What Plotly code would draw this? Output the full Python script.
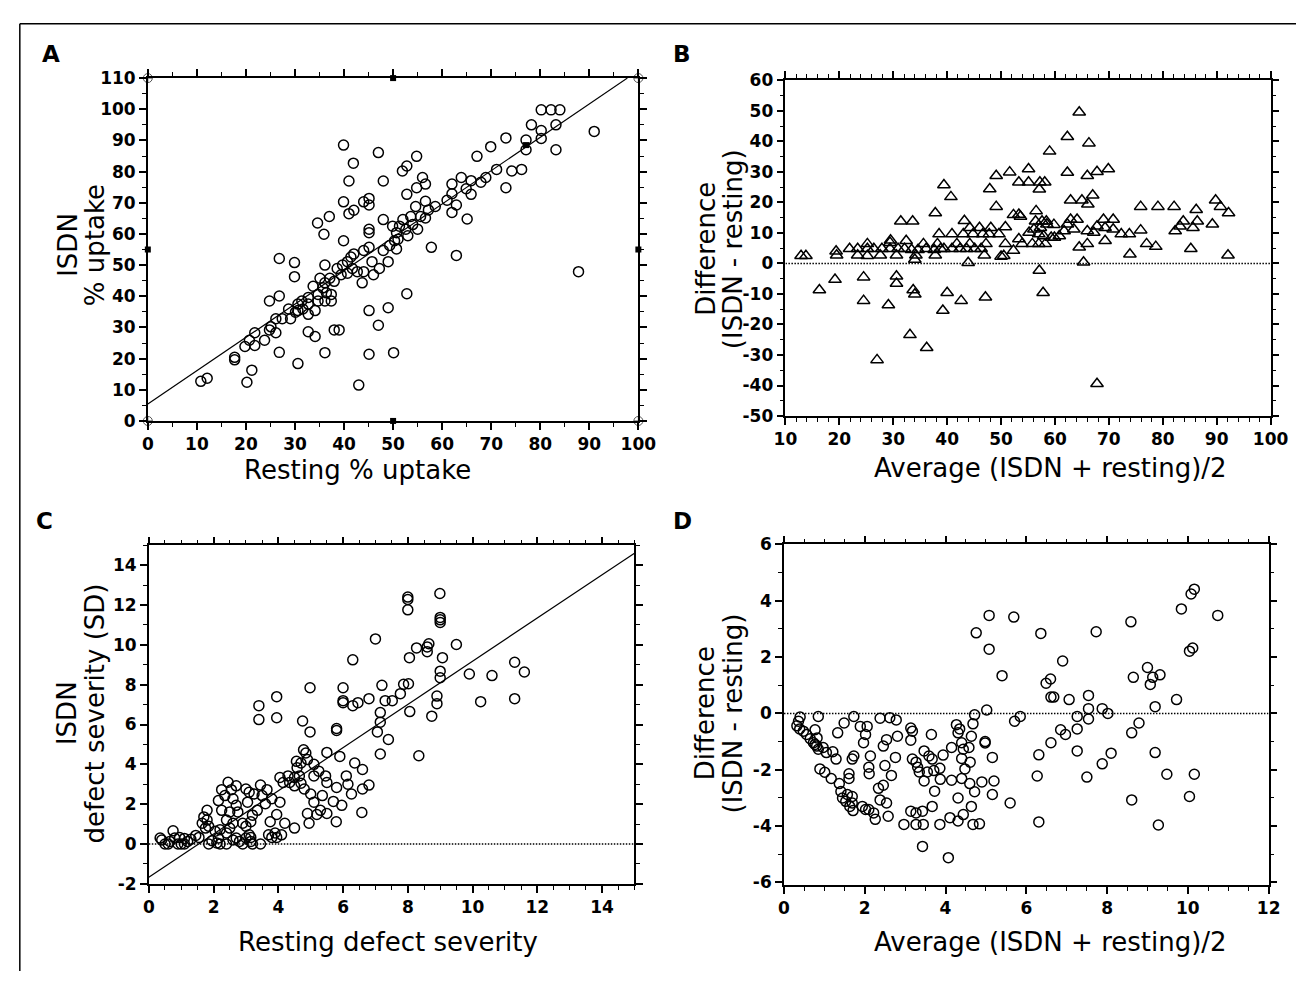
import plotly.graph_objects as go

W, H = 1314, 981
FONT = "DejaVu Sans"

# ---------------- data ----------------
# Panel A: resting % uptake (x) vs ISDN % uptake (y)
panel_a_points = [
    (10.8, 12.7), (12.1, 13.7), (17.7, 20.4), (17.7, 19.6), (19.8, 23.9), (20.7, 25.9), (21.8, 28.3), (21.8, 24.2), (20.2, 12.4), (21.2, 16.3),
    (23.8, 25.9), (24.8, 29.2), (25.1, 30.2), (24.8, 38.5), (26.1, 32.8), (26.1, 28.3), (26.8, 40.1), (26.8, 52.1), (26.8, 22.0), (27.4, 32.8),
    (28.7, 35.9), (29.1, 32.8), (29.9, 50.8), (29.9, 46.3), (30.1, 34.9), (30.6, 35.4), (30.6, 37.5), (30.6, 18.4), (31.4, 38.5), (31.6, 35.9),
    (32.7, 37.5), (32.7, 39.6), (32.7, 34.2), (32.7, 28.6), (33.7, 43.2), (34.1, 27.1), (34.1, 35.4), (34.6, 63.5), (34.7, 40.6), (34.7, 38.5),
    (35.1, 45.8), (35.7, 42.7), (35.9, 59.9), (36.1, 50.0), (36.1, 44.3), (36.1, 38.5), (36.1, 21.9), (36.4, 41.1), (37.0, 65.6), (37.1, 45.8),
    (37.4, 40.6), (37.4, 38.5), (38.0, 29.2), (38.0, 44.8), (38.6, 48.9), (39.0, 29.2), (39.4, 46.9), (39.7, 50.0), (39.9, 88.5), (39.9, 70.3),
    (39.9, 57.8), (40.7, 51.1), (40.7, 47.4), (41.0, 77.0), (41.0, 66.5), (41.4, 52.6), (41.7, 48.9), (41.9, 82.7), (42.0, 67.6), (42.0, 53.6),
    (42.7, 47.9), (43.0, 11.5), (43.7, 44.3), (44.0, 70.3), (44.0, 47.9), (44.0, 54.7), (45.1, 71.4), (45.1, 69.3), (45.1, 61.5), (45.1, 60.4),
    (45.1, 55.7), (45.1, 35.4), (45.1, 21.4), (45.7, 51.1), (46.0, 46.9), (47.0, 86.1), (47.0, 30.7), (47.2, 48.9), (48.0, 77.0), (48.0, 64.6),
    (48.0, 54.7), (49.0, 51.1), (49.0, 36.3), (49.3, 56.3), (49.9, 62.5), (50.1, 21.9), (50.3, 57.8), (50.7, 60.4), (51.0, 58.3), (50.7, 55.2),
    (51.3, 62.5), (51.9, 80.2), (52.0, 64.6), (52.6, 61.5), (52.8, 81.8), (52.8, 72.7), (52.8, 40.8), (53.0, 59.4), (53.6, 65.6), (54.0, 63.0),
    (54.6, 68.8), (54.8, 84.9), (54.8, 74.8), (55.0, 61.5), (55.6, 65.6), (56.0, 78.1), (56.6, 76.0), (56.6, 70.5), (56.6, 65.1), (57.2, 67.7),
    (57.8, 55.7), (58.6, 68.8), (61.0, 70.8), (62.0, 76.0), (62.0, 72.9), (62.0, 66.9), (62.9, 69.3), (62.9, 53.1), (63.9, 78.1), (64.9, 74.5),
    (65.1, 64.8), (65.9, 77.1), (65.9, 72.7), (67.1, 84.9), (67.9, 76.6), (68.9, 78.1), (69.9, 88.0), (71.1, 80.7), (73.0, 90.8), (73.0, 74.8),
    (74.2, 80.2), (76.2, 80.7), (77.1, 90.1), (77.1, 87.0), (78.2, 95.0), (80.2, 99.8), (82.2, 99.8), (84.0, 99.8), (80.2, 93.2), (80.2, 90.6),
    (83.2, 95.0), (83.2, 87.0), (91.0, 92.9), (87.8, 47.9),
]
a_line_intercept, a_line_slope = 5.4, 1.07
# selection handles visible in panel A
a_corner_handles = [(0, 0), (0, 110), (100, 0), (100, 110)]
a_mid_handles = [(50, 0), (50, 110), (0, 55), (100, 55), (77.1, 88.5)]

# Panel B: average (x) vs difference (y), triangles
panel_b_points = [
    (21.9, 4.8), (23.4, 4.8), (25.2, 4.8), (26.4, 4.8), (27.9, 4.8), (29.4, 4.8), (30.9, 4.8), (32.1, 4.8), (33.4, 4.5), (34.6, 4.5),
    (36.1, 4.8), (37.6, 4.5), (38.8, 4.8), (39.4, 4.8), (40.9, 4.8), (42.4, 4.8), (43.6, 4.8), (45.1, 4.8), (46.3, 4.8),
    (25.2, 6.4), (29.4, 6.8), (32.4, 7.4), (35.6, 6.4), (38.2, 6.4), (41.8, 6.4), (44.2, 6.4), (47.2, 6.4), (50.8, 6.4),
    (12.9, 2.5), (13.8, 2.5), (19.5, 2.7), (19.4, 4.0), (23.4, 2.7), (25.2, 2.5), (27.6, 2.7), (30.6, 2.7), (34.2, 2.7), (37.8, 2.7),
    (46.9, 2.7), (50.5, 2.5), (38.5, 9.6), (40.9, 9.6), (43.0, 9.6), (44.8, 9.6), (46.6, 9.6), (47.8, 9.6), (49.6, 9.6),
    (44.2, 11.7), (46.0, 11.7), (48.1, 11.7), (50.8, 11.9), (29.5, 7.6), (52.3, 4.2),
    (16.3, -8.7), (19.2, -5.3), (24.5, -4.5), (24.5, -12.2), (27.0, -31.6), (29.1, -13.6), (30.6, -4.2), (30.6, -6.6), (31.4, 13.8), (33.1, -23.4),
    (33.6, 13.8), (33.7, -8.7), (34.0, -10.1), (34.0, 1.3), (36.2, -27.6), (37.8, 16.5), (39.2, -15.4), (39.4, 25.7), (40.0, -9.6), (40.7, 21.8),
    (42.6, -12.2), (43.2, 14.0), (43.9, 0.2), (47.1, -11.1), (47.9, 24.4), (49.1, 18.6), (49.1, 28.7), (51.6, 29.9), (52.3, 15.9), (50.0, 2.3),
    (64.5, 49.5), (62.3, 41.5), (66.3, 39.4), (59.0, 36.7), (55.1, 30.9), (53.3, 26.6), (55.1, 26.6), (57.2, 26.6), (58.1, 26.6), (57.1, 24.3),
    (62.3, 29.8), (66.0, 28.7), (67.8, 30.0), (69.9, 30.9), (62.9, 20.7), (65.0, 20.7), (67.0, 22.3), (66.1, 19.4), (56.5, 17.2), (53.3, 16.0),
    (57.1, -2.3), (57.8, -9.6), (67.8, -39.4), (75.9, 18.6), (79.1, 18.6), (82.1, 18.6), (86.2, 17.6), (89.8, 20.7), (90.7, 18.6), (92.2, 16.5),
    (92.1, 2.7), (83.8, 13.8), (83.2, 12.2), (82.3, 10.6), (86.4, 13.8), (85.6, 11.7), (89.2, 12.8), (85.2, 4.8), (75.9, 10.9), (77.0, 6.4),
    (78.7, 5.5), (73.9, 3.0), (73.8, 9.6), (72.3, 9.6), (70.8, 11.2), (69.3, 11.7), (69.0, 14.4), (70.8, 14.4), (67.8, 12.2), (67.2, 10.1),
    (69.3, 7.4), (66.0, 10.6), (64.5, 5.3), (66.0, 6.4), (65.3, 0.4), (62.9, 14.4), (64.1, 14.4), (62.3, 12.8), (63.5, 11.2), (61.7, 10.6),
    (60.8, 9.0), (59.9, 8.5), (56.4, 13.8), (57.6, 13.8), (58.5, 12.8), (57.3, 11.7), (56.1, 11.2), (55.2, 10.1), (57.0, 9.6), (57.9, 9.0),
    (57.0, 6.4), (55.8, 6.4), (58.2, 6.4), (59.3, 8.5), (53.6, 15.4), (53.3, 8.0), (53.9, 6.4), (58.4, 13.8), (59.8, 12.7),
]

# Panel C: resting defect severity (x) vs ISDN defect severity (y)
panel_c_points = [
    (7.0, 10.3), (6.3, 9.25), (6.0, 7.85), (6.0, 7.2), (6.0, 7.1), (6.3, 6.95), (6.46, 7.1), (6.8, 7.3), (7.2, 7.97), (7.3, 7.2),
    (7.15, 6.6), (7.15, 6.12), (7.06, 5.63), (7.4, 5.25), (7.15, 4.52), (3.4, 6.95), (3.4, 6.25), (3.95, 7.4), (3.95, 6.34), (4.75, 6.18),
    (4.98, 7.85), (5.8, 5.8), (5.8, 5.7), (4.98, 5.63), (4.78, 4.73), (4.85, 4.57), (4.9, 4.24), (4.56, 4.15), (4.7, 4.07), (4.58, 3.83),
    (5.1, 4.0), (5.25, 3.66), (5.1, 3.42), (5.5, 4.6), (5.9, 4.4), (5.46, 3.42), (5.5, 3.09), (5.8, 2.84), (6.1, 3.42), (6.15, 3.0),
    (6.36, 4.07), (6.6, 3.74), (6.26, 2.51), (5.96, 1.94), (6.6, 2.76), (6.8, 2.96), (5.7, 2.14), (5.19, 1.48), (5.3, 1.69), (4.9, 1.53),
    (4.95, 1.04), (5.5, 1.53), (5.79, 1.12), (6.58, 1.58), (4.05, 3.34), (4.15, 3.09), (4.35, 3.09), (4.5, 2.92), (4.7, 3.05), (4.3, 3.42),
    (4.5, 3.34), (4.65, 3.42), (4.8, 2.76), (5.0, 2.51), (5.1, 2.1), (5.36, 2.43), (3.45, 2.96), (3.65, 2.73), (3.8, 2.27), (4.05, 2.1),
    (3.5, 2.43), (3.25, 2.51), (3.1, 2.6), (3.05, 2.1), (3.35, 1.69), (3.6, 2.02), (3.75, 1.12), (3.95, 1.48), (4.2, 1.04), (4.5, 0.8),
    (3.9, 0.55), (4.1, 0.46), (3.95, 0.33), (3.7, 0.46), (3.8, 0.33), (3.45, 0.0), (3.2, 0.0), (3.15, 0.13), (3.1, 0.46), (3.15, 0.33),
    (3.0, 0.3), (2.8, 0.13), (2.7, 0.3), (2.9, 0.0), (3.0, 0.89), (3.15, 1.12), (3.2, 1.45), (2.9, 1.04), (2.75, 1.61), (2.7, 1.94),
    (2.6, 2.27), (3.0, 2.76), (2.7, 2.92), (2.45, 3.1), (2.25, 2.73), (2.55, 2.73), (2.35, 2.43), (2.15, 2.18), (2.25, 1.69), (2.5, 1.61),
    (2.4, 1.2), (2.6, 1.04), (2.5, 0.8), (2.4, 0.55), (2.2, 0.72), (2.6, 0.2), (2.4, 0.0), (2.2, 0.0), (2.15, 0.3), (1.95, 0.16),
    (1.85, 0.0), (2.05, 0.64), (1.85, 0.89), (1.75, 0.8), (1.8, 1.2), (1.65, 1.04), (1.8, 1.69), (1.7, 1.36), (1.45, 0.43), (1.55, 0.33),
    (1.3, 0.24), (1.1, 0.28), (0.95, 0.33), (0.75, 0.66), (0.8, 0.3), (0.6, 0.0), (0.5, 0.0), (0.65, 0.13), (0.4, 0.2), (0.9, 0.0),
    (1.0, 0.0), (1.1, 0.0), (1.2, 0.13), (0.35, 0.3), (2.1, 0.05),
    (8.0, 12.4), (8.0, 12.28), (8.0, 11.76), (8.99, 12.58), (9.0, 11.38), (9.0, 11.26), (9.0, 11.13), (8.65, 10.06), (8.6, 9.9), (8.6, 9.66),
    (8.27, 9.85), (8.05, 9.36), (9.5, 10.02), (9.07, 9.36), (9.0, 8.68), (9.0, 8.35), (8.02, 8.05), (7.87, 8.02), (7.52, 7.2), (7.77, 7.55),
    (8.06, 6.65), (8.9, 7.43), (8.9, 7.05), (8.74, 6.42), (8.34, 4.43), (9.9, 8.54), (10.6, 8.46), (10.25, 7.15), (11.3, 9.13), (11.6, 8.64),
    (11.3, 7.3),
]
c_line_intercept, c_line_slope = -1.67, 1.085

# Panel D: average (x) vs difference (y), defect severity
panel_d_points = [
    (0.40, -0.13), (0.36, -0.28), (0.32, -0.44), (0.39, -0.55), (0.48, -0.63), (0.56, -0.75), (0.65, -0.90), (0.73, -1.04), (0.81, -1.16), (0.85, -0.11),
    (0.77, -0.58), (0.82, -0.87), (0.77, -1.10), (0.85, -1.27), (0.97, -1.21), (1.05, -1.39), (0.89, -1.97), (1.01, -2.09), (1.21, -1.36), (1.29, -1.62),
    (1.17, -2.31), (1.37, -2.49), (1.45, -3.00), (1.53, -3.12), (1.63, -3.30), (1.71, -3.45), (1.41, -2.77), (1.57, -2.88), (1.69, -3.18), (1.69, -2.95),
    (1.33, -0.69), (1.49, -0.34), (1.73, -0.11), (1.89, -0.46), (2.06, -0.46), (1.73, -1.51), (1.69, -1.62), (1.97, -1.04), (2.02, -0.75), (2.14, -1.51),
    (2.10, -1.91), (2.11, -2.14), (1.61, -2.14), (1.61, -2.31), (1.94, -3.30), (2.02, -3.41), (2.10, -3.41), (2.22, -3.53), (2.26, -3.76), (2.34, -2.66),
    (2.46, -2.55), (2.38, -3.07), (2.54, -3.18), (2.58, -3.65), (2.38, -0.17), (2.62, -0.15), (2.78, -0.23), (2.46, -1.16), (2.54, -0.93), (2.81, -0.81),
    (2.76, -1.56), (2.50, -1.85), (2.66, -2.20), (2.97, -3.94), (3.14, -0.52), (3.18, -0.63), (3.14, -0.95), (3.18, -1.62), (3.27, -1.73), (3.31, -1.91),
    (3.35, -2.08), (3.14, -3.47), (3.27, -3.53), (3.27, -3.94), (3.45, -3.94), (3.43, -3.47), (3.43, -4.72), (3.47, -1.33), (3.59, -1.51), (3.67, -1.62),
    (3.47, -2.40), (3.55, -2.08), (3.71, -2.03), (3.65, -0.75), (3.73, -2.76), (3.67, -3.30), (3.86, -1.95), (3.87, -2.34), (3.86, -3.94), (3.94, -1.48),
    (4.07, -5.12), (4.15, -1.21), (4.15, -2.37), (4.11, -3.70), (4.31, -3.82), (4.27, -0.40), (4.31, -0.69), (4.35, -0.55), (4.40, -1.04), (4.44, -1.27),
    (4.40, -1.60), (4.40, -2.31), (4.48, -1.97), (4.31, -3.00), (4.44, -3.59), (4.64, -0.81), (4.58, -1.21), (4.61, -1.73), (4.60, -2.49), (4.72, -2.78),
    (4.64, -3.30), (4.68, -3.94), (4.84, -3.92), (4.72, -0.05), (4.68, -0.37), (4.98, -1.00), (4.98, -1.05), (5.02, 0.12), (5.16, -1.56), (5.16, -2.88),
    (4.90, -2.43), (5.08, 3.48), (5.69, 3.42), (4.76, 2.86), (5.08, 2.28), (5.40, 1.34), (5.60, -3.18), (5.71, -0.28), (5.85, -0.11), (5.20, -2.40),
    (6.36, 2.84), (6.31, -1.47), (6.27, -2.22), (6.31, -3.85), (6.49, 1.07), (6.60, 1.22), (6.61, 0.58), (6.68, 0.58), (6.90, 1.86), (7.06, 0.49),
    (6.61, -1.04), (6.85, -0.58), (6.97, -0.75), (7.26, -0.11), (7.26, -0.55), (7.26, -1.33), (7.54, 0.64), (7.54, 0.17), (7.54, -0.20), (7.50, -2.26),
    (7.73, 2.90), (7.88, 0.17), (8.02, 0.00), (7.88, -1.79), (8.10, -1.41), (8.59, 3.25), (8.65, 1.28), (9.00, 1.63), (9.07, 1.03), (9.31, 1.37),
    (9.13, 1.28), (9.19, 0.24), (8.79, -0.34), (8.61, -0.69), (8.61, -3.07), (9.19, -1.39), (9.48, -2.16), (9.27, -3.96), (9.72, 0.49), (9.84, 3.71),
    (10.08, 4.24), (10.16, 4.41), (10.04, 2.21), (10.12, 2.32), (10.04, -2.95), (10.16, -2.16), (10.74, 3.48),
]

# axis ranges and tick values / labels
a_xrange, a_yrange = [0, 100], [0, 110]
b_xrange, b_yrange = [10, 100], [-50, 60]
c_xrange, c_yrange = [0, 15], [-2, 15]
d_xrange, d_yrange = [0, 12], [-6.1, 6]
b_yticks = [-50, -40, -30, -20, -10, 0, 10, 20, 30, 40, 50, 60]
c_yticks = [-2, 0, 2, 4, 6, 8, 10, 12, 14]
d_yticks = [-6, -4, -2, 0, 2, 4, 6]

# ---------------- helpers ----------------
def fx(p):
    return p / W

def fy(p):
    return 1 - p / H

def unzip(pts):
    return [p[0] for p in pts], [p[1] for p in pts]

def axis(rng, dtick, mdtick, dom, anchor, tickvals=None):
    d = dict(
        range=rng, domain=dom, anchor=anchor,
        showline=True, linecolor="black", linewidth=1.6, mirror="allticks",
        ticks="outside", ticklen=7, tickwidth=1.5, tickcolor="black",
        tick0=0, dtick=dtick, showgrid=False, zeroline=False,
        tickfont=dict(family=FONT, size=17, color="black", weight="bold"),
        minor=dict(tick0=0, dtick=mdtick, ticks="outside", ticklen=4,
                   tickwidth=1.2, tickcolor="black", showgrid=False),
        fixedrange=True,
    )
    if tickvals is not None:
        d.update(tickmode="array", tickvals=tickvals,
                 ticktext=[str(v) for v in tickvals])
    return d

circle = dict(symbol="circle-open", size=10, color="black", line=dict(width=1.5, color="black"))
tri = dict(symbol="triangle-up-open", size=11, color="black", line=dict(width=1.5, color="black"))
zero_line = dict(color="black", width=1.5, dash="1.5px,1.5px")

fig = go.Figure()

# Panel A
ax_, ay_ = unzip(panel_a_points)
x_end = (a_yrange[1] - a_line_intercept) / a_line_slope
fig.add_trace(go.Scatter(x=[0, x_end], y=[a_line_intercept, a_line_intercept + a_line_slope * x_end],
                         mode="lines", line=dict(color="black", width=1.2), xaxis="x", yaxis="y"))
fig.add_trace(go.Scatter(x=ax_, y=ay_, mode="markers", marker=circle, xaxis="x", yaxis="y"))
hx, hy = unzip(a_corner_handles)
fig.add_trace(go.Scatter(x=hx, y=hy, mode="markers", cliponaxis=False,
                         marker=dict(symbol="circle-cross-open", size=9, color="#555", line=dict(width=1)),
                         xaxis="x", yaxis="y"))
mx, my = unzip(a_mid_handles)
fig.add_trace(go.Scatter(x=mx, y=my, mode="markers", cliponaxis=False,
                         marker=dict(symbol="square", size=6, color="black"), xaxis="x", yaxis="y"))

# Panel B
bx, by = unzip(panel_b_points)
fig.add_trace(go.Scatter(x=b_xrange, y=[0, 0], mode="lines", line=zero_line, xaxis="x2", yaxis="y2"))
fig.add_trace(go.Scatter(x=bx, y=by, mode="markers", marker=tri, xaxis="x2", yaxis="y2"))

# Panel C
cx, cy = unzip(panel_c_points)
fig.add_trace(go.Scatter(x=c_xrange, y=[0, 0], mode="lines", line=zero_line, xaxis="x3", yaxis="y3"))
fig.add_trace(go.Scatter(x=c_xrange, y=[c_line_intercept + c_line_slope * v for v in c_xrange],
                         mode="lines", line=dict(color="black", width=1.2), xaxis="x3", yaxis="y3"))
fig.add_trace(go.Scatter(x=cx, y=cy, mode="markers", marker=circle, xaxis="x3", yaxis="y3"))

# Panel D
dx, dy = unzip(panel_d_points)
fig.add_trace(go.Scatter(x=d_xrange, y=[0, 0], mode="lines", line=zero_line, xaxis="x4", yaxis="y4"))
fig.add_trace(go.Scatter(x=dx, y=dy, mode="markers", marker=circle, xaxis="x4", yaxis="y4"))

# ---------------- layout ----------------
dom_a = ([fx(139), fx(641)], [fy(419.5), fy(69.5)])
dom_b = ([fx(791.5), fx(1288)], [fy(414.5), fy(71.7)])
dom_c = ([fx(140), fx(637)], [fy(892), fy(546.5)])
dom_d = ([fx(790), fx(1286)], [fy(893.5), fy(545.5)])

title_font = dict(family=FONT, size=26, color="black")
letter_font = dict(family=FONT, size=23, color="black", weight="bold")

def ann(text, x, y, font, angle=0):
    return dict(text=text, x=fx(x), y=fy(y), xref="paper", yref="paper",
                showarrow=False, xanchor="center", yanchor="middle",
                textangle=angle, font=font)

annotations = [
    ann("A", 40, 45, letter_font), ann("B", 686, 45, letter_font),
    ann("C", 33, 522, letter_font), ann("D", 686, 522, letter_font),
    ann("Resting % uptake", 354, 470, title_font),
    ann("Average (ISDN + resting)/2", 1063, 468, title_font),
    ann("Resting defect severity", 385, 951, title_font),
    ann("Average (ISDN + resting)/2", 1063, 951, title_font),
    ann("ISDN", 57, 240, title_font, -90), ann("% uptake", 85, 240, title_font, -90),
    ann("Difference", 710, 244, title_font, -90), ann("(ISDN - resting)", 738, 244, title_font, -90),
    ann("ISDN", 57, 718, title_font, -90), ann("defect severity (SD)", 85, 718, title_font, -90),
    ann("Difference", 710, 718, title_font, -90), ann("(ISDN - resting)", 738, 718, title_font, -90),
]

shapes = [
    dict(type="line", xref="paper", yref="paper", x0=fx(8), x1=1, y0=fy(14), y1=fy(14),
         line=dict(color="black", width=1.5)),
    dict(type="line", xref="paper", yref="paper", x0=fx(8), x1=fx(8), y0=fy(14), y1=0,
         line=dict(color="black", width=1.5)),
]

fig.update_layout(
    width=W, height=H, margin=dict(l=0, r=0, t=0, b=0),
    paper_bgcolor="white", plot_bgcolor="white", showlegend=False,
    xaxis=axis(a_xrange, 10, 5, dom_a[0], "y"), yaxis=axis(a_yrange, 10, 5, dom_a[1], "x"),
    xaxis2=axis(b_xrange, 10, 2, dom_b[0], "y2"), yaxis2=axis(b_yrange, 10, 5, dom_b[1], "x2", b_yticks),
    xaxis3=axis(c_xrange, 2, 0.5, dom_c[0], "y3"), yaxis3=axis(c_yrange, 2, 1, dom_c[1], "x3", c_yticks),
    xaxis4=axis(d_xrange, 2, 0.5, dom_d[0], "y4"), yaxis4=axis(d_yrange, 2, 1, dom_d[1], "x4", d_yticks),
    annotations=annotations, shapes=shapes,
)

fig.write_html("out.html", config={"displayModeBar": False},
               post_script="document.body.style.margin='0';document.body.style.overflow='hidden';")
